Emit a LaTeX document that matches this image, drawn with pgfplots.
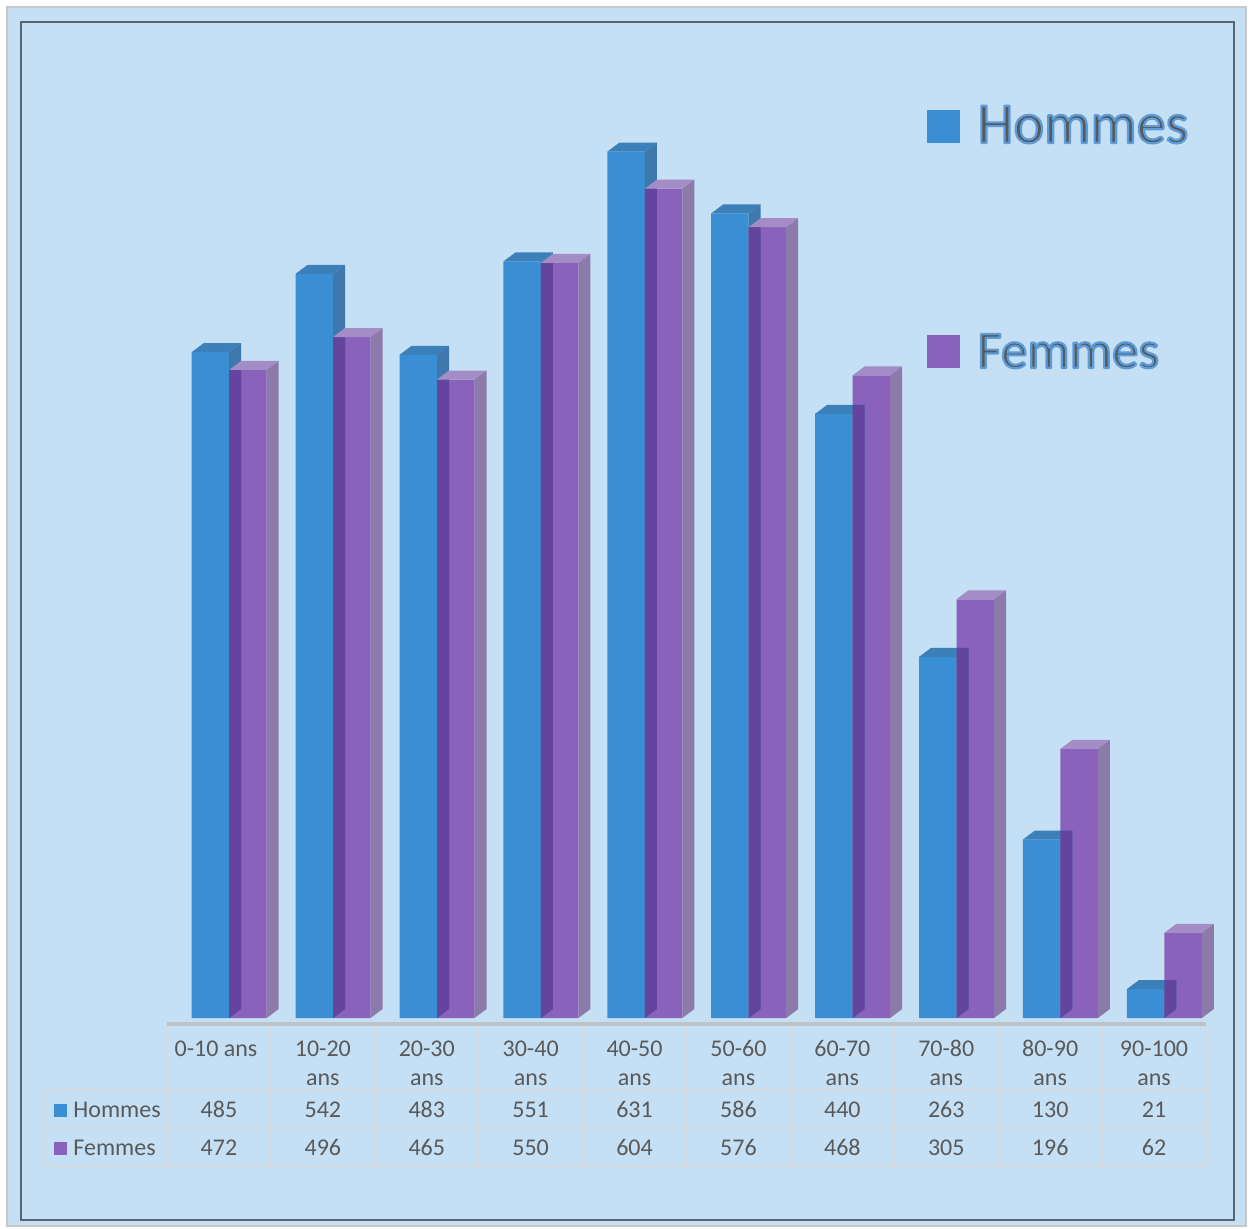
\documentclass[border=0pt]{standalone}
\usepackage{pgfplots}
\pgfplotsset{compat=1.18}
\usepackage{pgfplotstable}
\usepackage{fontspec}
\setmainfont{Carlito}

\definecolor{bg}{RGB}{197,224,245}
\definecolor{blueF}{RGB}{58,143,212}
\definecolor{blueT}{RGB}{60,128,186}
\definecolor{blueS}{RGB}{62,120,172}
\definecolor{purF}{RGB}{138,98,187}
\definecolor{purT}{RGB}{164,140,198}
\definecolor{purS}{RGB}{140,123,170}
\definecolor{overl}{RGB}{99,69,160}
\definecolor{txt}{RGB}{89,89,89}
\definecolor{gridc}{RGB}{214,218,222}
\definecolor{gridtop}{RGB}{190,195,200}
\definecolor{frameout}{RGB}{200,200,200}
\definecolor{framein}{RGB}{90,100,112}

\pgfplotstableread{
i H F
0 485 472
1 542 496
2 483 465
3 551 550
4 631 604
5 586 576
6 440 468
7 263 305
8 130 196
9 21 62
}\data

\pgfdeclareplotmark{topface}{%
  \pgfpathmoveto{\pgfqpoint{-9.375pt}{0pt}}%
  \pgfpathlineto{\pgfqpoint{9.375pt}{0pt}}%
  \pgfpathlineto{\pgfqpoint{15.375pt}{4.5pt}}%
  \pgfpathlineto{\pgfqpoint{-3.375pt}{4.5pt}}%
  \pgfpathclose\pgfusepathqfill}
\pgfdeclareplotmark{sideface}{%
  \pgfpathmoveto{\pgfqpoint{9.375pt}{0pt}}%
  \pgfpathlineto{\pgfqpoint{15.375pt}{4.5pt}}%
  \pgfpathlineto{\pgfpoint{15.375pt}{4.5pt-\bh pt}}%
  \pgfpathlineto{\pgfpoint{9.375pt}{-\bh pt}}%
  \pgfpathclose\pgfusepathqfill}
\pgfdeclareplotmark{hiddenpart}{%
  \pgfpathmoveto{\pgfpoint{9.375pt}{-\bh pt}}%
  \pgfpathlineto{\pgfpoint{15.375pt}{4.5pt-\bh pt}}%
  \pgfpathlineto{\pgfpoint{15.375pt}{\mtop pt}}%
  \pgfpathlineto{\pgfpoint{9.375pt}{\mtop pt}}%
  \pgfpathclose\pgfusepathqfill}

% outlined (glow-like) text: blue stroke around gray fill
\newcommand\glowtext[2]{%
  \node[anchor=base west, inner sep=0pt, text=txt] at (#1)
    {\special{pdf:literal direct 0.36 0.61 0.86 RG 1.1 w 1 j 2 Tr}#2\special{pdf:literal direct 0 Tr}};}

\begin{document}
\begin{tikzpicture}[x=0.5pt,y=-0.5pt]
\fill[white] (0,0) rectangle (1252,1228);
\filldraw[fill=bg, draw=frameout, line width=1pt] (7,7) rectangle (1246,1226);
\draw[framein, line width=1.2pt] (21,22) rectangle (1234,1220);

\begin{axis}[at={(109.475pt,-509pt)}, anchor=origin,
  x=51.95pt, y=0.6865pt, xmin=-0.5, xmax=9.5, ymin=0, ymax=700,
  hide axis, clip=false]
\addplot[ybar, bar width=0.3609, bar shift=-0.0818, fill=blueF, draw=none] table[x=i,y=H]{\data};
\addplot[only marks, mark=topface, blueT] table[x expr=\thisrow{i}-0.0818, y=H]{\data};
\addplot[only marks, mark=sideface, blueS, visualization depends on={\thisrow{H}*0.6865 \as \bh}] table[x expr=\thisrow{i}-0.0818, y=H]{\data};
\addplot[ybar, bar width=0.3609, bar shift=0.2791, fill=purF, draw=none] table[x=i,y=F]{\data};
\addplot[only marks, mark=hiddenpart, overl, visualization depends on={\thisrow{H}*0.6865 \as \bh}, visualization depends on={min(4.5,(\thisrow{F}-\thisrow{H})*0.6865) \as \mtop}] table[x expr=\thisrow{i}-0.0818, y=H]{\data};
\addplot[only marks, mark=topface, purT] table[x expr=\thisrow{i}+0.2791, y=F]{\data};
\addplot[only marks, mark=sideface, purS, visualization depends on={\thisrow{F}*0.6865 \as \bh}] table[x expr=\thisrow{i}+0.2791, y=F]{\data};
\end{axis}

% data table
\draw[gridtop, line width=2pt] (167,1024) -- (1206,1024);
\draw[gridc, line width=1pt] (45,1090) -- (1206,1090) (45,1128) -- (1206,1128) (45,1166) -- (1206,1166) (45,1090) -- (45,1166);
\foreach \k in {0,...,10} \draw[gridc, line width=1pt] ({167+103.9*\k},1026) -- ({167+103.9*\k},1166);
\begin{scope}[font=\fontsize{12}{14}\selectfont, text=txt]
\node[anchor=base] at (216,1056) {0-10 ans};
\foreach \a [count=\k] in {10-20,20-30,30-40,40-50,50-60,60-70,70-80,80-90,90-100}{%
  \node[anchor=base] at ({218.95+103.9*\k},1056) {\a};
  \node[anchor=base] at ({218.95+103.9*\k},1085) {ans};}
\foreach \h/\f [count=\k from 0] in {485/472,542/496,483/465,551/550,631/604,586/576,440/468,263/305,130/196,21/62}{%
  \node[anchor=base] at ({218.95+103.9*\k},1117) {\h};
  \node[anchor=base] at ({218.95+103.9*\k},1155) {\f};}
\fill[blueF] (54,1104) rectangle (67,1117);
\node[anchor=base west, inner sep=0pt] at (73,1117) {Hommes};
\fill[purF] (54,1142) rectangle (67,1155);
\node[anchor=base west, inner sep=0pt] at (73,1155) {Femmes};
\end{scope}

% legend
\fill[blueF] (927,110) rectangle (960,143);
\fill[purF] (927,335) rectangle (960,368);
\begin{scope}[font=\fontsize{29}{34}\selectfont]
\glowtext{977,143}{Hommes}
\end{scope}
\begin{scope}[font=\fontsize{26.5}{31}\selectfont]
\glowtext{977,368}{Femmes}
\end{scope}
\end{tikzpicture}
\end{document}
